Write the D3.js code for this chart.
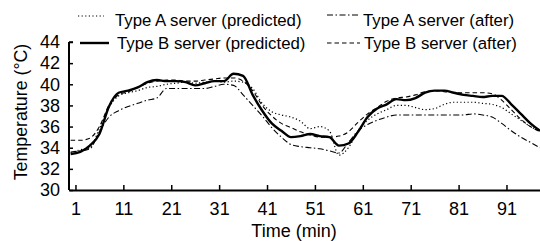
<!DOCTYPE html>
<html><head><meta charset="utf-8">
<script src="https://cdn.jsdelivr.net/npm/d3@7"></script>
<style>
html,body{margin:0;padding:0;background:#fff;}
svg{display:block;font-family:Arial,"Liberation Sans",sans-serif;}
</style></head>
<body><svg id="c" width="540" height="241"></svg>
<script>
const times = d3.range(0, 100, 2); // minutes 0..98
const typeAPredicted = [33.5,33.8,34.0,35.8,37.8,38.9,39.2,39.4,39.7,39.8,40.0,40.1,40.2,40.1,40.2,40.3,40.2,40.3,40.2,39.6,38.2,37.4,37.1,36.9,36.5,35.8,36.0,35.6,33.3,34.0,35.6,36.6,37.2,37.6,38.0,38.0,37.8,37.6,37.7,38.1,38.3,38.3,38.3,38.2,38.1,37.8,37.2,36.6,36.0,35.6];
const typeBPredicted = [33.4,33.6,34.2,35.3,37.9,39.2,39.4,39.7,40.2,40.4,40.3,40.3,40.2,39.9,40.1,40.3,40.3,41.0,40.8,39.0,37.5,36.3,35.6,35.0,35.1,35.3,35.1,35.0,34.2,34.4,35.5,36.9,37.7,38.1,38.6,38.5,38.7,39.2,39.4,39.4,39.2,39.0,38.9,38.8,38.9,38.9,38.1,37.2,36.3,35.6];
const typeAAfter = [33.6,33.7,33.9,35.5,36.9,37.5,37.9,38.2,38.5,38.7,39.6,39.6,39.6,39.6,39.6,39.8,40.0,39.9,39.0,38.0,37.0,35.9,35.0,34.3,34.1,34.0,33.9,33.7,33.5,34.5,35.6,36.2,36.6,36.9,37.1,37.1,37.1,37.1,37.1,37.1,37.1,37.1,37.2,37.1,36.9,36.3,35.6,35.0,34.5,34.0];
const typeBAfter = [34.7,34.7,34.9,36.0,38.0,39.0,39.3,39.7,40.1,40.3,40.4,40.4,40.3,40.3,40.4,40.5,40.6,40.6,40.3,39.4,38.0,37.0,36.3,35.9,35.5,35.2,35.0,35.0,35.1,35.5,36.4,37.2,37.8,38.4,38.7,38.8,39.0,39.3,39.4,39.3,39.2,39.2,39.2,39.2,39.1,38.5,37.6,36.7,36.0,35.5];
const xTickValues = [1,11,21,31,41,51,61,71,81,91];
const yTickValues = [30,32,34,36,38,40,42,44];
const seriesNames = ["Type A server (predicted)","Type B server (predicted)","Type A server (after)","Type B server (after)"];

const svg = d3.select("#c");
const x = d3.scaleLinear().domain([-0.35, 98]).range([69, 540]);
const y = d3.scaleLinear().domain([30, 44]).range([190, 42]);

const styles = [
  {data: typeAPredicted, w: 1.2, dash: "1.2,2.4"},
  {data: typeBPredicted, w: 2.4, dash: null},
  {data: typeAAfter, w: 1.1, dash: "6,2.5,1.5,2.5"},
  {data: typeBAfter, w: 1.1, dash: "4.5,3"}
];

const line = d3.line().x((d,i)=>x(times[i])).y(d=>y(d)).curve(d3.curveMonotoneX);

const order = [0,2,3,1];
order.forEach(k=>{
  const s = styles[k];
  svg.append("path").attr("d", line(s.data)).attr("fill","none")
    .attr("stroke","#000").attr("stroke-width", s.w)
    .attr("stroke-dasharray", s.dash);
});

// axes
const xAxis = d3.axisBottom(x).tickValues(xTickValues).tickSizeInner(-5).tickSizeOuter(0).tickPadding(12);
const gx = svg.append("g").attr("transform","translate(0,190)").call(xAxis);
const yAxis = d3.axisLeft(y).tickValues(yTickValues).tickSizeInner(-4).tickSizeOuter(0).tickPadding(9);
const gy = svg.append("g").attr("transform","translate(69,0)").call(yAxis);
[gx,gy].forEach(g=>{
  g.select(".domain").attr("stroke","#000").attr("stroke-width",2);
  g.selectAll(".tick line").attr("stroke","#000").attr("stroke-width",1.5);
  g.selectAll(".tick text").attr("fill","#000").style("font-size","18px").style("font-family","Arial, 'Liberation Sans', sans-serif");
});
gy.select(".domain").attr("d","M0,190V42");
gy.append("line").attr("x1",0).attr("x2",4).attr("y1",y(44)).attr("y2",y(44)).attr("stroke","#000").attr("stroke-width",1.5);

svg.append("text").attr("x",294).attr("y",237).attr("text-anchor","middle")
  .style("font-size","18px").text("Time (min)");
svg.append("text").attr("transform","translate(27,112) rotate(-90)").attr("text-anchor","middle")
  .style("font-size","17.8px").text("Temperature (°C)");

// legend
const legendPos = [
  {x1:78,x2:104,ly:16,tx:115,ty:26},
  {x1:80,x2:109,ly:43,tx:117,ty:49},
  {x1:327,x2:360,ly:15,tx:363,ty:26},
  {x1:327,x2:360,ly:43,tx:364,ty:49}
];
legendPos.forEach((p,k)=>{
  const s = styles[k];
  svg.append("line").attr("x1",p.x1).attr("x2",p.x2).attr("y1",p.ly).attr("y2",p.ly)
    .attr("stroke","#000").attr("stroke-width",s.w).attr("stroke-dasharray",s.dash);
  svg.append("text").attr("x",p.tx).attr("y",p.ty).style("font-size","16.8px").text(seriesNames[k]);
});
</script></body></html>
